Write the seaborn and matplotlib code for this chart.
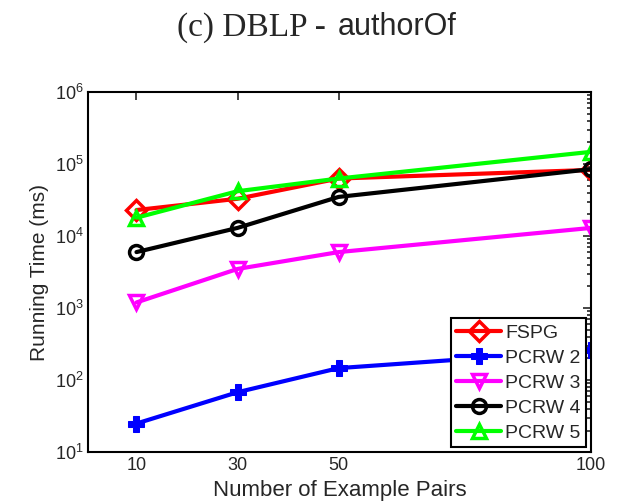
import numpy as np
import pandas as pd
import seaborn as sns
import matplotlib.pyplot as plt
from matplotlib.ticker import LogLocator, LogFormatterMathtext, NullFormatter

pairs = [10, 30, 50, 100]
fspg = [23000, 33000, 63000, 83000]
pcrw2 = [25, 68, 147, 260]
pcrw3 = [1200, 3500, 6000, 13000]
pcrw4 = [6000, 13000, 35000, 85000]
pcrw5 = [18000, 42000, 63000, 148000]

series = ['FSPG', 'PCRW 2', 'PCRW 3', 'PCRW 4', 'PCRW 5']
colors = ['#ff0000', '#0000ff', '#ff00ff', '#000000', '#00ff00']
markers = ['D', 'P', 'v', 'o', '^']

df = pd.DataFrame({'pairs': pairs * 5,
                   'time': fspg + pcrw2 + pcrw3 + pcrw4 + pcrw5,
                   'method': [s for s in series for _ in pairs]})

sns.set_style('white')
plt.rcParams['font.family'] = ['Liberation Sans', 'DejaVu Sans']
plt.rcParams['mathtext.fontset'] = 'custom'
plt.rcParams['mathtext.rm'] = 'Liberation Sans'
plt.rcParams['mathtext.it'] = 'Liberation Sans'

fig = plt.figure(figsize=(6.23, 5.03), dpi=100)
ax = fig.add_axes([0.142, 0.101, 0.807, 0.716])

for name, col, mk in zip(series, colors, markers):
    sub = df[df['method'] == name]
    if mk == 'P':
        sns.lineplot(data=sub, x='pairs', y='time', ax=ax, color=col, lw=3,
                     marker='P', markersize=11, markerfacecolor=col,
                     markeredgecolor=col, label=name)
    else:
        sns.lineplot(data=sub, x='pairs', y='time', ax=ax, color=col, lw=3,
                     marker=mk, markersize=10, markerfacecolor='none',
                     markeredgecolor=col, markeredgewidth=2.5, label=name)

ax.set_yscale('log')
ax.set_ylim(10, 1e6)
ax.set_xlim(0.5, 100)
ax.set_xticks(pairs)
ax.yaxis.set_major_locator(LogLocator(base=10, numticks=10))
ax.yaxis.set_major_formatter(LogFormatterMathtext())
ax.yaxis.set_minor_locator(LogLocator(base=10, subs=np.arange(2, 10), numticks=20))
ax.yaxis.set_minor_formatter(NullFormatter())
ax.tick_params(which='both', direction='in', top=True, right=True,
               labelsize=13, width=1.2)
ax.tick_params(which='major', length=6)
ax.tick_params(which='minor', length=3)
for sp in ax.spines.values():
    sp.set_color('black')
    sp.set_linewidth(1.5)

ax.set_xlabel('Number of Example Pairs', fontsize=16, labelpad=4)
ax.set_ylabel('Running Time (ms)', fontsize=15, labelpad=4)

# title: serif prefix, sans-serif relation name
fig.text(326 / 623, 0.946, '(c) DBLP -', ha='right', va='center',
         fontsize=24, family='Liberation Serif')
fig.text(338 / 623, 0.946, 'authorOf', ha='left', va='center',
         fontsize=22, family='Liberation Sans')

leg = ax.legend(loc='lower right', fontsize=14, frameon=True, fancybox=False,
                framealpha=1, handlelength=2.3, borderpad=0.3,
                labelspacing=0.38, handletextpad=0.2, borderaxespad=0.25)
leg.get_frame().set_edgecolor('black')
leg.get_frame().set_linewidth(1.5)

fig.savefig('out.png', dpi=100)
